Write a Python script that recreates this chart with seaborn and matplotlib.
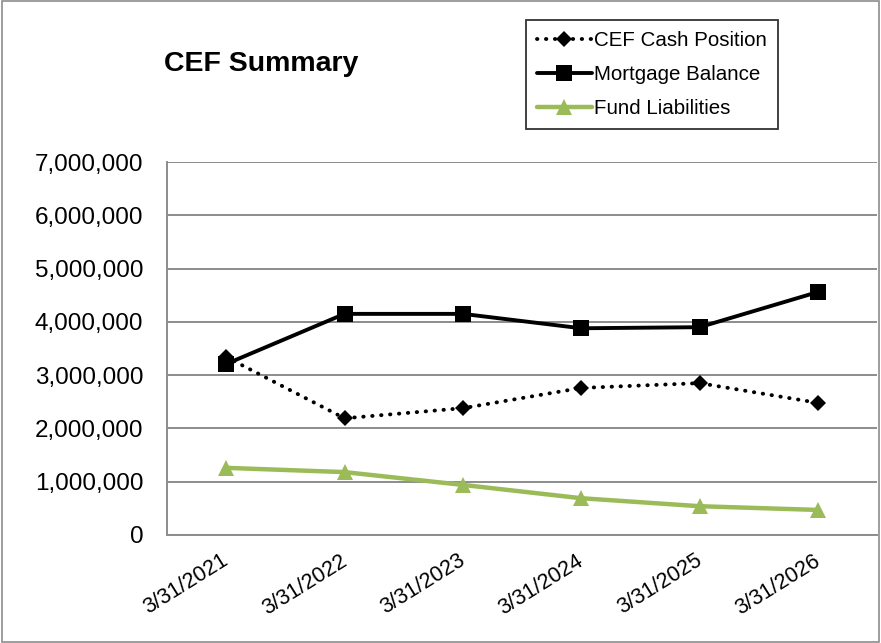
import matplotlib
matplotlib.use('Agg')
import matplotlib.pyplot as plt
import matplotlib.transforms as mtransforms
import seaborn as sns
import pandas as pd
from matplotlib.ticker import FuncFormatter, FixedLocator
from matplotlib.patches import Rectangle

# data
dates = ['3/31/2021', '3/31/2022', '3/31/2023', '3/31/2024', '3/31/2025', '3/31/2026']
cef_cash = [3340000, 2190000, 2380000, 2760000, 2850000, 2480000]
mortgage = [3210000, 4150000, 4150000, 3880000, 3900000, 4560000]
fund_liab = [1260000, 1180000, 940000, 690000, 540000, 470000]

sns.set_style('white')
plt.rcParams['font.family'] = ['Liberation Sans', 'DejaVu Sans']
plt.rcParams['text.color'] = 'black'
plt.rcParams['xtick.labelcolor'] = 'black'
plt.rcParams['ytick.labelcolor'] = 'black'

fig = plt.figure(figsize=(8.81, 6.43), dpi=100)
ax = fig.add_axes([0.1896, 0.168, 0.8059, 0.580])

pos = list(range(len(dates)))
green = '#9BBB59'
grey = '#8c8c8c'

sns.lineplot(x=pos, y=cef_cash, ax=ax, color='black', linestyle=(0, (0.1, 2.2)),
             dash_capstyle='round', linewidth=2.8, marker='D', markersize=8,
             markeredgewidth=0, label='CEF Cash Position')
sns.lineplot(x=pos, y=mortgage, ax=ax, color='black', linewidth=2.8, marker='s',
             markersize=11, markeredgewidth=0, label='Mortgage Balance')
sns.lineplot(x=pos, y=fund_liab, ax=ax, color=green, linewidth=3.2, marker='^',
             markersize=11, markeredgewidth=0, label='Fund Liabilities')

ax.set_xlim(-0.5, len(dates) - 0.5)
ax.set_ylim(0, 7000000)
ax.set_yticks(range(0, 7000001, 1000000))
ax.yaxis.set_major_formatter(FuncFormatter(lambda v, p: f'{int(v):,}'))
ax.yaxis.grid(True, color=grey, linewidth=1.4)
ax.set_axisbelow(True)

ax.set_xticks(pos)
ax.set_xticklabels(dates, rotation=32, ha='right', va='top', rotation_mode='anchor', fontsize=15.5)
ax.xaxis.set_minor_locator(FixedLocator([i - 0.5 for i in range(len(dates) + 1)]))
ax.tick_params(axis='x', which='major', length=0, pad=11)
ax.tick_params(axis='x', which='minor', length=5, width=1.4, color=grey, direction='out')
ax.tick_params(axis='y', length=5, width=1.4, color=grey, direction='out', labelsize=17.5, pad=12)

# nudge the date labels a little to the left (after tick_params, which resets transforms)
shift = mtransforms.ScaledTranslation(-5 / 100, 0, fig.dpi_scale_trans)
for lab in ax.get_xticklabels():
    lab.set_transform(lab.get_transform() + shift)

for s in ['top', 'right']:
    ax.spines[s].set_visible(False)
for s in ['left', 'bottom']:
    ax.spines[s].set_color(grey)
    ax.spines[s].set_linewidth(1.4)

ax.set_xlabel('')
ax.set_ylabel('')

leg = ax.legend(loc='upper left', bbox_to_anchor=(0.597, 0.969), bbox_transform=fig.transFigure,
                frameon=True, fancybox=False, fontsize=14.8, handlelength=2.65,
                borderpad=0.55, labelspacing=0.72, handletextpad=0.12, borderaxespad=0)
leg.get_frame().set_edgecolor('black')
leg.get_frame().set_linewidth(1.3)

fig.text(0.186, 0.901, 'CEF Summary', fontsize=20.5, fontweight='bold', ha='left', va='center')

fig.patches.append(Rectangle((0.002, 0.002), 0.996, 0.996, transform=fig.transFigure,
                             fill=False, edgecolor=grey, linewidth=1.2))

plt.savefig('out.png', dpi=100)
plt.close()
